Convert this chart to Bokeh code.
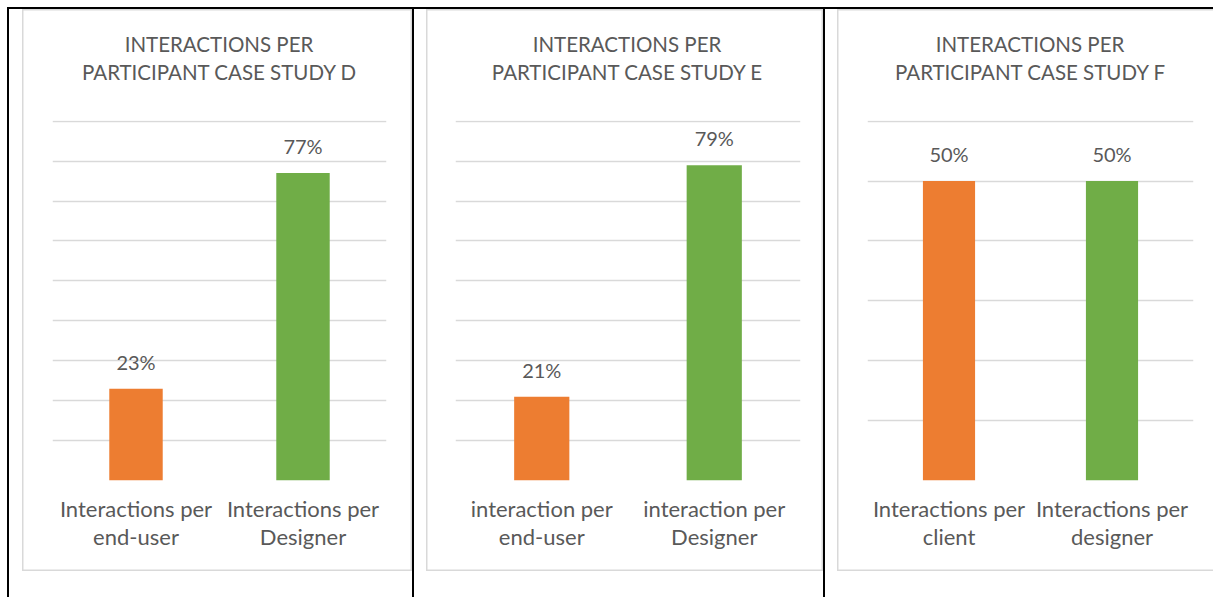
from bokeh.plotting import figure
from bokeh.layouts import row, column
from bokeh.models import FactorRange, Range1d, FixedTicker, Spacer, Div
from bokeh.core.properties import value
from bokeh.embed import file_html
from bokeh.resources import INLINE

# ---- data ----
title_top = "INTERACTIONS PER"
title_d = "PARTICIPANT CASE STUDY D"
title_e = "PARTICIPANT CASE STUDY E"
title_f = "PARTICIPANT CASE STUDY F"

cats_d = ["Interactions per\nend-user", "Interactions per\nDesigner"]
vals_d = [0.23, 0.77]
labels_d = ["23%", "77%"]

cats_e = ["interaction per\nend-user", "interaction per\nDesigner"]
vals_e = [0.21, 0.79]
labels_e = ["21%", "79%"]

cats_f = ["Interactions per\nclient", "Interactions per\ndesigner"]
vals_f = [0.50, 0.50]
labels_f = ["50%", "50%"]

ticks_de = [0.0, 0.1, 0.2, 0.3, 0.4, 0.5, 0.6, 0.7, 0.8, 0.9]
ticks_f = [0.0, 0.1, 0.2, 0.3, 0.4, 0.5, 0.6]

bar_colors = ["#ED7D31", "#70AD47"]

FONT = "Lato"
TXT = "#595959"
GRID = "#D9D9D9"
BOX_H = 562   # chart box height
DIV_H = 90    # title block height


def make(title2, cats, vals, labels, ticks, width, left, right, box_style, center):
    head = Div(
        text=(f'<div style="font-family:Lato; font-size:20.5px; line-height:28px; '
              f'color:{TXT}; text-align:center; padding-top:21px; '
              f'width:{2 * center}px; white-space:nowrap;">'
              f'{title_top}<br>{title2}</div>'),
        width=width, height=DIV_H, margin=0,
    )
    fh = BOX_H - DIV_H
    p = figure(
        x_range=FactorRange(*cats, range_padding=0.0),
        y_range=Range1d(0, ticks[-1] * 1.002),
        width=width, height=fh, title=None,
        min_border_left=left, min_border_right=right,
        min_border_top=111 - DIV_H, min_border_bottom=BOX_H - 471,
        output_backend="svg", toolbar_location=None,
        background_fill_color=None, border_fill_color=None,
        outline_line_color=None, margin=0,
    )

    p.vbar(x=cats, top=vals, width=0.32, color=bar_colors, line_color=None)
    p.text(x=cats, y=vals, text=labels, text_align="center",
           text_baseline="alphabetic", y_offset=-27,
           text_font=value(FONT), text_font_size="20px", text_color=TXT)

    p.yaxis.visible = False
    p.xgrid.grid_line_color = None
    p.ygrid.ticker = FixedTicker(ticks=ticks)
    p.ygrid.grid_line_color = GRID
    p.ygrid.grid_line_width = 1.3

    ax = p.xaxis[0]
    ax.axis_line_color = None
    ax.major_tick_line_color = None
    ax.minor_tick_line_color = None
    ax.major_label_text_font = FONT
    ax.major_label_text_font_size = "22px"
    ax.major_label_text_color = TXT
    ax.major_label_standoff = 8
    ax.major_label_text_line_height = 1.05

    return column(head, p, spacing=0, margin=0,
                  styles={"box-shadow": box_style, "background-color": "white"})


full_box = f"inset 0 0 0 1.5px {GRID}"
open_box = f"inset 1.5px 1.5px 0 {GRID}, inset 0 -1.5px 0 {GRID}"

# centre of each title = centre of the plotting area, in box pixels
c1 = make(title_d, cats_d, vals_d, labels_d, ticks_de, 390, 30, 26, full_box, 197)
c2 = make(title_e, cats_e, vals_e, labels_e, ticks_de, 397, 29, 23, full_box, 201)
c3 = make(title_f, cats_f, vals_f, labels_f, ticks_f, 376, 30, 20, open_box, 193)


def black(w, h):
    return Spacer(width=w, height=h, margin=0, styles={"background-color": "black"})


def gap(w, h):
    return Spacer(width=w, height=h, margin=0)


VH = 597 - 9
cells = row(
    gap(7, VH), black(2, VH), gap(13, VH), c1,
    black(2, VH), gap(12, VH), c2,
    black(2, VH), gap(12, VH), c3,
    spacing=0, margin=0,
)
top = row(gap(7, 2), black(1206, 2), spacing=0, margin=0)
layout = column(gap(1213, 7), top, cells, spacing=0, margin=0)

open("out.html", "w").write(file_html(layout, INLINE))
